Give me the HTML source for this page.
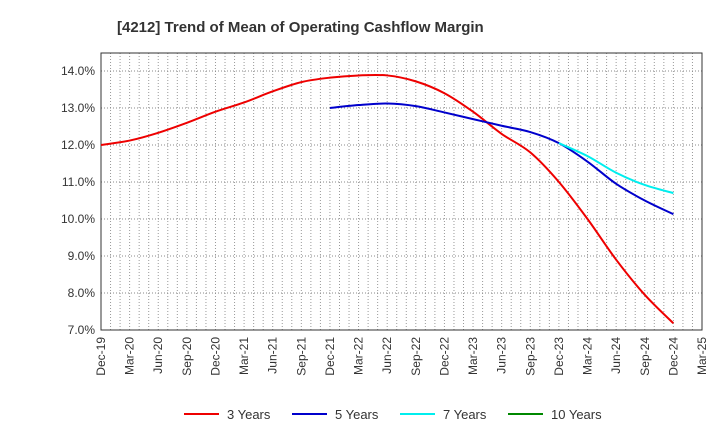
<!DOCTYPE html>
<html><head><meta charset="utf-8"><style>
body{margin:0;background:#fff;font-family:"Liberation Sans",Arial,sans-serif}
</style></head><body>
<svg width="720" height="440" xmlns="http://www.w3.org/2000/svg">
<text x="117" y="32" font-size="15" font-weight="bold" fill="#333">[4212]  Trend of Mean of Operating Cashflow Margin</text>
<g id="grid"></g><g id="axes"></g><g id="series"></g><g id="legend"></g>
</svg>
<script>
const xLabels=["Dec-19","Mar-20","Jun-20","Sep-20","Dec-20","Mar-21","Jun-21","Sep-21","Dec-21","Mar-22","Jun-22","Sep-22","Dec-22","Mar-23","Jun-23","Sep-23","Dec-23","Mar-24","Jun-24","Sep-24","Dec-24","Mar-25"];
const yTicks=[7,8,9,10,11,12,13,14];
const s3=[12.0,12.12,12.33,12.6,12.9,13.15,13.45,13.7,13.82,13.88,13.88,13.72,13.4,12.9,12.3,11.8,11.0,10.0,8.9,7.95,7.18];
const s5=[13.0,13.08,13.12,13.05,12.88,12.7,12.52,12.35,12.05,11.55,10.95,10.5,10.13];
const s7=[12.05,11.7,11.25,10.92,10.7];
const s10=[];
const L=101,R=702,T=53,B=330;
const xq=i=>L+i*(R-L)/21;
const y=v=>71+(14-v)*37;
const NS="http://www.w3.org/2000/svg";
function mk(p,tag,a){const e=document.createElementNS(NS,tag);for(const k in a)e.setAttribute(k,a[k]);p.appendChild(e);return e;}
const grid=document.getElementById('grid'),axes=document.getElementById('axes'),ser=document.getElementById('series'),leg=document.getElementById('legend');
for(let m=1;m<63;m++){const x=L+m*(R-L)/63;const g=mk(grid,'line',{x1:x,x2:x,y1:T,y2:B,stroke:'#999','stroke-dasharray':'1,2'});

}
yTicks.forEach(v=>{const g=mk(grid,'line',{x1:L,x2:R,y1:y(v),y2:y(v),stroke:'#888','stroke-dasharray':'1,2'});


const t=mk(axes,'text',{x:L-6,y:y(v)+4,'text-anchor':'end','font-size':12,fill:'#333'});t.textContent=v.toFixed(1)+'%';

});
const fr=mk(axes,'rect',{x:L,y:T,width:R-L,height:B-T,fill:'none',stroke:'#333'});


xLabels.forEach((l,i)=>{const x=xq(i);const t=mk(axes,'text',{transform:`translate(${x+4},${B+7}) rotate(-90)`,'text-anchor':'end','font-size':12,fill:'#333'});t.textContent=l;

});
function path(arr,off){let d='';const pts=arr.map((v,i)=>[xq(i+off),y(v)]);
if(!pts.length)return '';d='M'+pts[0][0]+','+pts[0][1];
for(let i=0;i<pts.length-1;i++){const p0=pts[i-1]||pts[i],p1=pts[i],p2=pts[i+1],p3=pts[i+2]||p2;
d+=` C${p1[0]+(p2[0]-p0[0])/6},${p1[1]+(p2[1]-p0[1])/6} ${p2[0]-(p3[0]-p1[0])/6},${p2[1]-(p3[1]-p1[1])/6} ${p2[0]},${p2[1]}`;}return d;}
const series=[[s3,0,'#ee0000','3 Years'],[s5,8,'#0000cc','5 Years'],[s7,16,'#00eeee','7 Years'],[s10,20,'#008800','10 Years']];
series.forEach(([a,o,c,n],k)=>{if(a.length){const p=mk(ser,'path',{d:path(a,o),fill:'none',stroke:c,'stroke-width':2});

}
const lx=[184,292,400,508][k];
const ln=mk(leg,'line',{x1:lx,x2:lx+35,y1:414,y2:414,stroke:c,'stroke-width':2});


const t=mk(leg,'text',{x:lx+43,y:419,'font-size':13,fill:'#333'});t.textContent=n;

});
</script>
</body></html>
